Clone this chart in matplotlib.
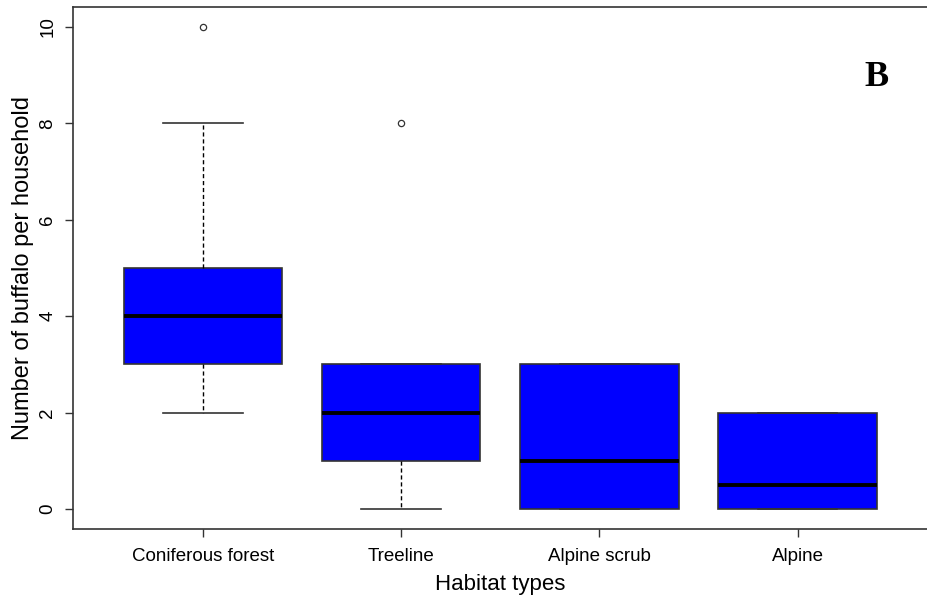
import matplotlib
matplotlib.use("Agg")
import matplotlib.pyplot as plt

plt.rcParams["font.family"] = ["Liberation Sans", "DejaVu Sans"]

# five-number summaries per habitat (buffalo per household)
habitats = ["Coniferous forest", "Treeline", "Alpine scrub", "Alpine"]
lower_whisker = [2, 0, 0, 0]
q1 = [3, 1, 0, 0]
median = [4, 2, 1, 0.5]
q3 = [5, 3, 3, 2]
upper_whisker = [8, 3, 3, 2]
outliers = [[10], [8], [], []]

stats = []
for i, name in enumerate(habitats):
    stats.append(dict(label=name, whislo=lower_whisker[i], q1=q1[i], med=median[i],
                      q3=q3[i], whishi=upper_whisker[i], fliers=outliers[i]))

fig = plt.figure(figsize=(9.27, 5.97), dpi=100)
ax = fig.add_axes([0.0787, 0.1139, 0.922, 0.8744])

edge = "#333333"
ax.bxp(stats, positions=[1, 2, 3, 4], widths=0.8, patch_artist=True,
       boxprops=dict(facecolor="#0000ff", edgecolor=edge, linewidth=1.2),
       medianprops=dict(color="black", linewidth=2.8, solid_capstyle="butt"),
       whiskerprops=dict(color="black", linewidth=1.0, linestyle=(0, (3, 2))),
       capprops=dict(color=edge, linewidth=1.2),
       capwidths=0.4,
       flierprops=dict(marker="o", markersize=4.5, markerfacecolor="none",
                       markeredgecolor="#333333", markeredgewidth=0.9))

ax.set_xlim(0.345, 4.655)
ax.set_ylim(-0.415, 10.415)
ax.set_yticks([0, 2, 4, 6, 8, 10])
ax.set_yticklabels(["0", "2", "4", "6", "8", "10"], rotation=90, va="center")
ax.tick_params(axis="both", labelsize=13.5, length=6, color=edge, width=1.0)
ax.tick_params(axis="x", pad=8)
ax.tick_params(axis="y", pad=6)
for s in ax.spines.values():
    s.set_color(edge)
    s.set_linewidth(1.2)
ax.spines["right"].set_visible(False)

ax.set_xlabel("Habitat types", fontsize=16, labelpad=6)
ax.set_ylabel("Number of buffalo per household", fontsize=17, labelpad=4)

ax.text(0.94, 0.865, "B", transform=ax.transAxes, fontsize=26, fontweight="bold",
        family="Liberation Serif", ha="center", va="center")

fig.savefig("out.png", dpi=100)
